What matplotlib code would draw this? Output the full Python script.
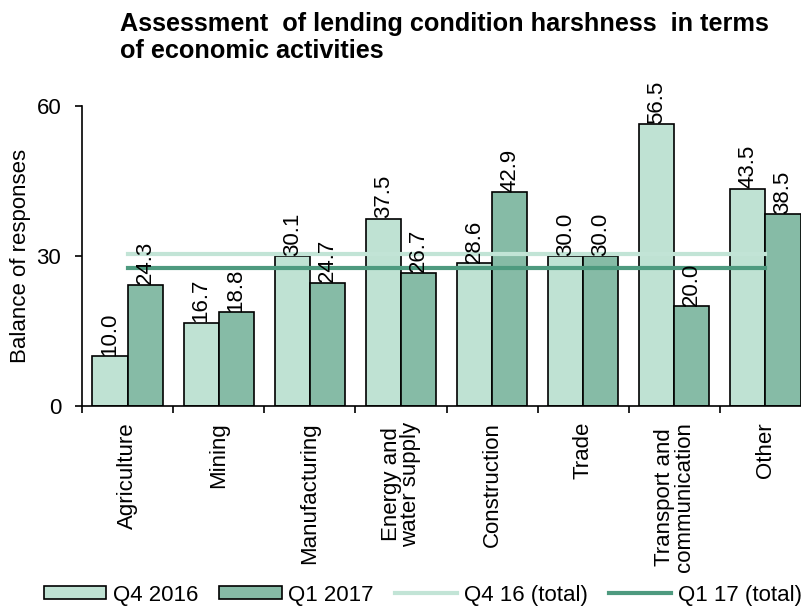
import matplotlib as mpl
import matplotlib.pyplot as plt
import numpy as np

mpl.use('Agg')

categories = ['Agriculture', 'Mining', 'Manufacturing', 'Energy and\nwater supply', 'Construction',
              'Trade', 'Transport and\ncommunication', 'Other']
q4_2016 = [10.0, 16.7, 30.1, 37.5, 28.6, 30.0, 56.5, 43.5]
q1_2017 = [24.3, 18.8, 24.7, 26.7, 42.9, 30.0, 20.0, 38.5]
q4_total = 30.4
q1_total = 27.6
yticks = [0, 30, 60]

plt.rcParams['font.family'] = ['Liberation Sans', 'DejaVu Sans']

fig = plt.figure(figsize=(8.01, 6.06), dpi=100)
ax = fig.add_axes([82 / 801, 1 - 406 / 606, (811 - 82) / 801, 300 / 606])

x = np.arange(len(categories))
w = 0.385
b1 = ax.bar(x - w / 2, q4_2016, w, color='#bfe2d3', edgecolor='black', lw=1.2, label='Q4 2016', zorder=2)
b2 = ax.bar(x + w / 2, q1_2017, w, color='#86bba6', edgecolor='black', lw=1.2, label='Q1 2017', zorder=2)
l1, = ax.plot([x[0], x[-1]], [q4_total] * 2, color='#c2e4d6', lw=3, label='Q4 16 (total)', zorder=3)
l2, = ax.plot([x[0], x[-1]], [q1_total] * 2, color='#4e9a7f', lw=3, label='Q1 17 (total)', zorder=3)

for xi, v in zip(x, q4_2016):
    ax.text(xi - w / 2, v, f'{v:.1f}', rotation=90, ha='center', va='bottom', fontsize=16, zorder=4)
for xi, v in zip(x, q1_2017):
    ax.text(xi + w / 2, v, f'{v:.1f}', rotation=90, ha='center', va='bottom', fontsize=16, zorder=4)

ax.set_xlim(-0.5, len(categories) - 0.5)
ax.set_ylim(0, 60)
ax.set_yticks(yticks)
ax.tick_params(axis='y', labelsize=16, direction='out', length=5, width=1.2, pad=10)
ax.set_xticks(x)
ax.set_xticklabels(categories, rotation=90, fontsize=16, linespacing=0.92)
ax.tick_params(axis='x', length=0, pad=11.5)
ax.set_xticks(np.arange(len(categories) + 1) - 0.5, minor=True)
ax.tick_params(axis='x', which='minor', length=5, width=1.2, direction='out')
for s in ['top', 'right']:
    ax.spines[s].set_visible(False)
for s in ['left', 'bottom']:
    ax.spines[s].set_linewidth(1.2)
ax.set_ylabel('Balance of responses', fontsize=16, labelpad=4)

fig.text(120 / 801, 1 - 12 / 606, 'Assessment  of lending condition harshness  in terms\nof economic activities',
         fontsize=18.2, fontweight='bold', ha='left', va='top', linespacing=1.15)

fig.legend([b1, b2, l1, l2], ['Q4 2016', 'Q1 2017', 'Q4 16 (total)', 'Q1 17 (total)'],
           loc='center', bbox_to_anchor=(0.528, 1 - 595 / 606), ncol=4, frameon=False, fontsize=16,
           handlelength=2.8, handleheight=0.55, handletextpad=0.3, columnspacing=0.95, borderpad=0,
           borderaxespad=0)

plt.savefig('out.png', dpi=100)
